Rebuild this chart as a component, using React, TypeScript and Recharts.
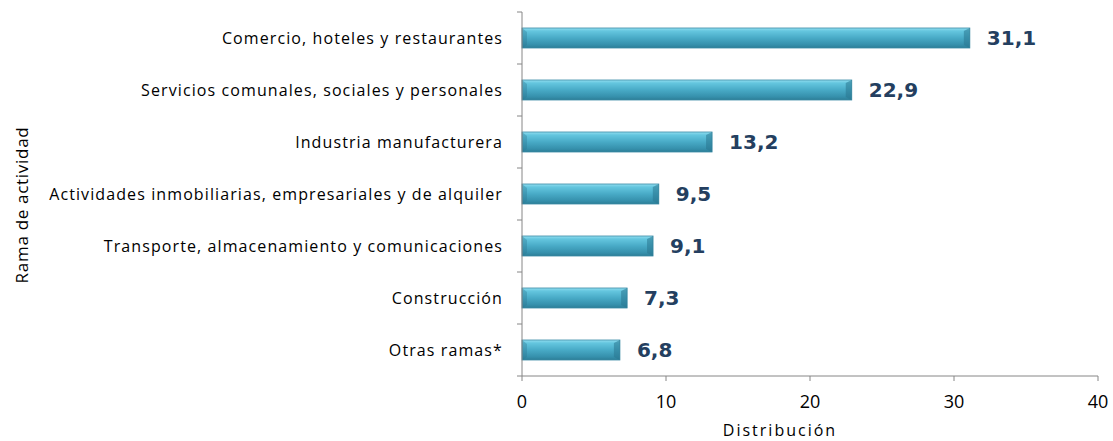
import React from 'react';
import { BarChart, Bar, XAxis, YAxis, LabelList } from 'recharts';

const categories = [
  'Comercio, hoteles y restaurantes',
  'Servicios comunales, sociales y personales',
  'Industria manufacturera',
  'Actividades inmobiliarias, empresariales y de alquiler',
  'Transporte, almacenamiento y comunicaciones',
  'Construcción',
  'Otras ramas*',
];
const values = [31.1, 22.9, 13.2, 9.5, 9.1, 7.3, 6.8];
const xTicks = [0, 10, 20, 30, 40];

const data = categories.map((c, i) => ({ name: c, value: values[i] }));

const AXIS = '#868686';
const FONT = '"Open Sans", "Noto Sans", sans-serif';
const TICK_SIZE = 5;
const TICK_MARGIN = 14;

const BevelBar = (props: any) => {
  const { x, y, width, height } = props;
  if (!width || width <= 0) return null;
  const b = Math.min(6, width);
  return (
    <g>
      <rect x={x} y={y} width={width} height={height} fill="url(#barGrad)" stroke="#3a8ba5" strokeWidth={0.8} />
      <polygon
        points={`${x + width - b},${y + 3} ${x + width},${y} ${x + width},${y + height} ${x + width - b},${y + height - 3}`}
        fill="#2a7690"
        opacity={0.55}
      />
      <polygon
        points={`${x},${y + height} ${x + 5},${y + height - 3} ${x + 5},${y + 4} ${x},${y}`}
        fill="#2a7690"
        opacity={0.35}
      />
    </g>
  );
};

const CatTick = (props: any) => {
  const { x, y, payload, index, visibleTicksCount } = props;
  const half = payload && payload.offset ? payload.offset : 26;
  const axisX = x + TICK_SIZE + TICK_MARGIN;
  const isLast = visibleTicksCount ? index === visibleTicksCount - 1 : index === categories.length - 1;
  return (
    <g>
      <line x1={axisX - TICK_SIZE} x2={axisX} y1={y - half} y2={y - half} stroke={AXIS} />
      {isLast && <line x1={axisX - TICK_SIZE} x2={axisX} y1={y + half} y2={y + half} stroke={AXIS} />}
      <text
        x={x}
        y={y}
        textAnchor="end"
        dominantBaseline="central"
        fontFamily={FONT}
        fontSize={16}
        letterSpacing={1.1}
        fill="#000"
      >
        {payload.value}
      </text>
    </g>
  );
};

const YTitle = (p: any) => {
  const vb = p.viewBox || {};
  const cx = vb.x + 21;
  const cy = vb.y + vb.height / 2 + 11;
  return (
    <text
      x={cx}
      y={cy}
      transform={`rotate(-90 ${cx} ${cy})`}
      textAnchor="middle"
      dominantBaseline="central"
      fontFamily={FONT}
      fontSize={17}
      letterSpacing={0.7}
      fill="#000"
    >
      Rama de actividad
    </text>
  );
};

const XTitle = (p: any) => {
  const vb = p.viewBox || {};
  const cx = vb.x + vb.width / 2 - 30;
  const cy = vb.y + 54;
  return (
    <text
      x={cx}
      y={cy}
      textAnchor="middle"
      dominantBaseline="central"
      fontFamily={FONT}
      fontSize={16}
      letterSpacing={2}
      fill="#000"
    >
      Distribución
    </text>
  );
};

export default function App() {
  return (
    <div style={{ position: 'absolute', left: 0, top: 0, width: 1113, height: 441, background: '#fff' }}>
      <BarChart
        width={1113}
        height={441}
        data={data}
        layout="vertical"
        margin={{ top: 12, right: 15, bottom: 15, left: 0 }}
        barSize={20}
      >
        <defs>
          <linearGradient id="barGrad" x1="0" y1="0" x2="0" y2="1">
            <stop offset="0" stopColor="#93def0" />
            <stop offset="0.15" stopColor="#64c6df" />
            <stop offset="0.5" stopColor="#48aac6" />
            <stop offset="0.85" stopColor="#358fab" />
            <stop offset="1" stopColor="#2c7d96" />
          </linearGradient>
        </defs>
        <XAxis
          type="number"
          domain={[0, 40]}
          ticks={xTicks}
          height={50}
          axisLine={{ stroke: AXIS }}
          tickLine={{ stroke: AXIS }}
          tickSize={5}
          tickMargin={14}
          tick={{ fill: '#000', fontSize: 18, fontFamily: FONT }}
          label={{ content: XTitle }}
        />
        <YAxis
          type="category"
          dataKey="name"
          width={522}
          axisLine={{ stroke: AXIS }}
          tickLine={false}
          tickSize={TICK_SIZE}
          tickMargin={TICK_MARGIN}
          interval={0}
          tick={CatTick}
          label={{ content: YTitle }}
        />
        <Bar dataKey="value" shape={BevelBar} isAnimationActive={false}>
          <LabelList
            dataKey="value"
            position="right"
            offset={17}
            formatter={(v: any) => String(v).replace('.', ',')}
            style={{ fill: '#243f60', fontWeight: 'bold', fontSize: 20, fontFamily: '"DejaVu Sans", Verdana, sans-serif' }}
          />
        </Bar>
      </BarChart>
    </div>
  );
}
